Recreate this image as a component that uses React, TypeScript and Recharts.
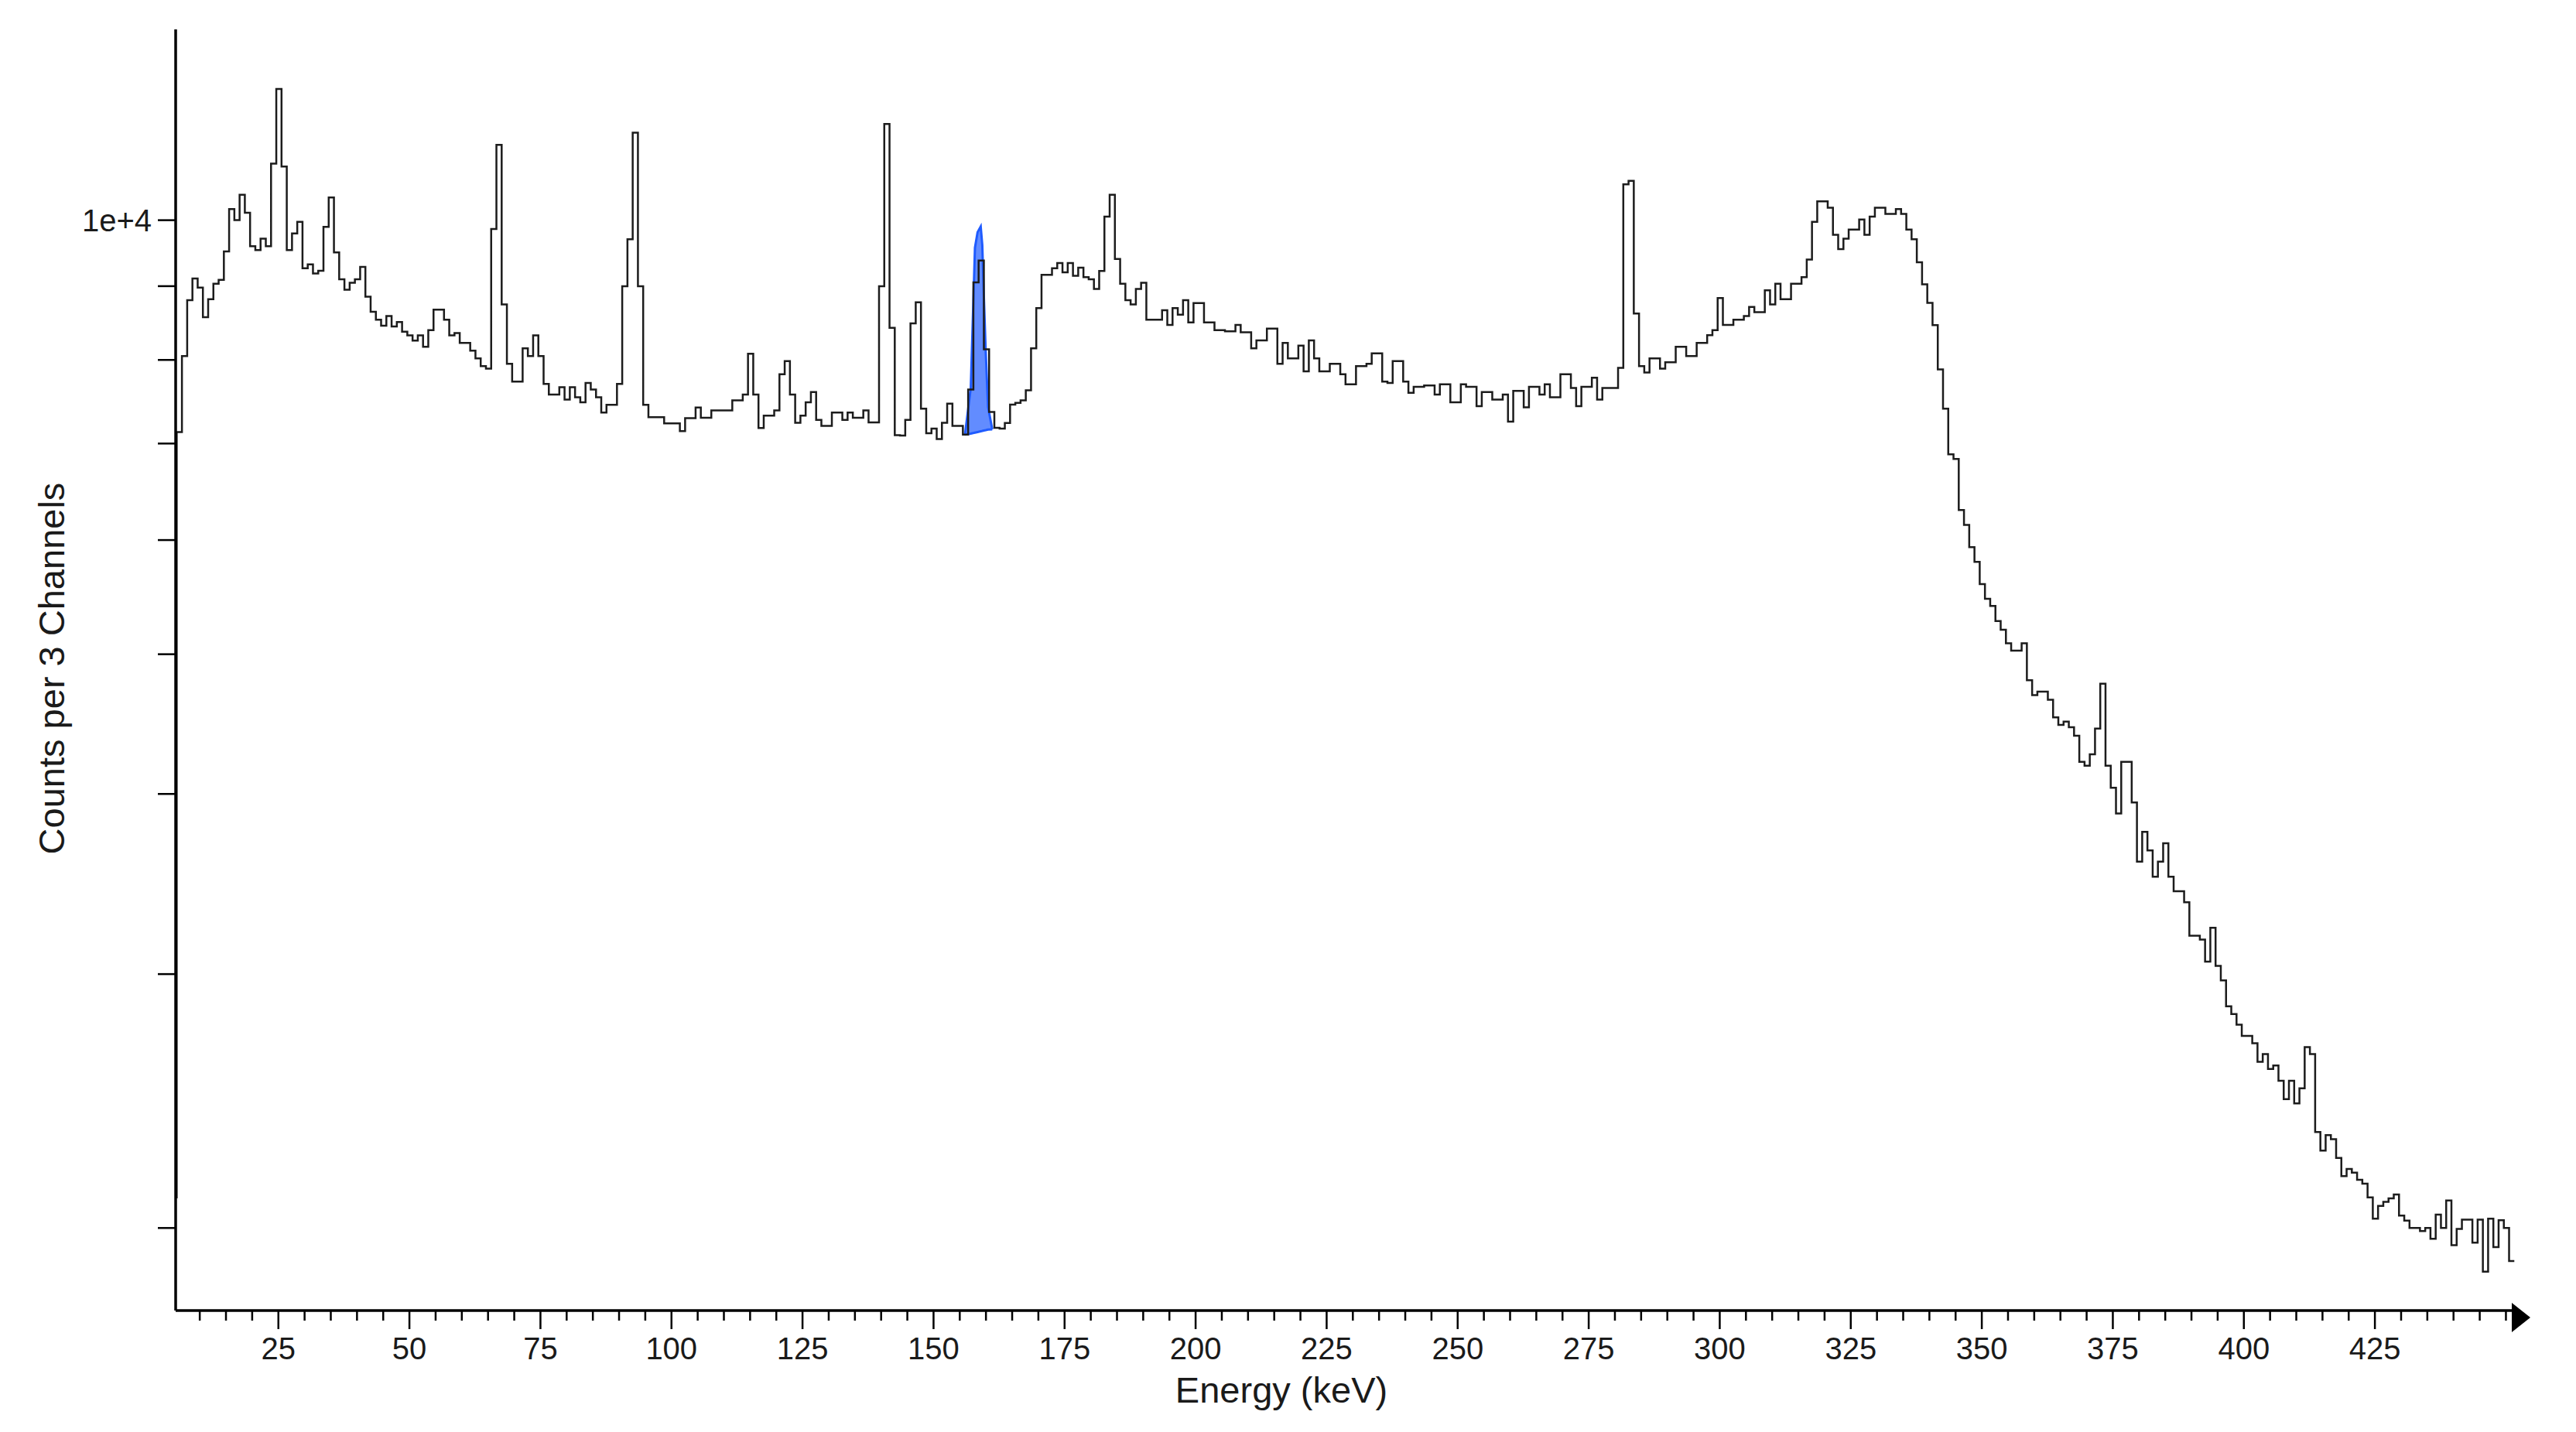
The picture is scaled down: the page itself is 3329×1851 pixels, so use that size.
import React from "react";
import { Area, ComposedChart, Label, Line, XAxis, YAxis } from "recharts";

// Counts per 3 channels. Bins are 1 keV wide, the
// first one (left edge 4.6 keV) lies almost entirely left of the axis.
const binStart = 4.6;
const binWidth = 1;
const counts = [
    2100,
    // 6 - 15 keV
    7130, 8050, 8800, 9110, 8980, 8565, 8815, 9035, 9091, 9512,
    // 16 - 25
    10180, 10000, 10413, 10118, 9592, 9533, 9710, 9592, 10946, 12330,
    // 26 - 35
    10896, 9533, 9790, 9973, 9260, 9318, 9185, 9223, 9893, 10371,
    // 36 - 45
    9500, 9100, 8950, 9050, 9100, 9280, 8850, 8640, 8530, 8450,
    // 46 - 55
    8580, 8440, 8500, 8370, 8320, 8250, 8320, 8170, 8390, 8670,
    // 56 - 65
    8670, 8530, 8320, 8350, 8220, 8220, 8120, 8020, 7920, 7890,
    // 66 - 75
    9860, 11280, 8741, 7950, 7727, 7727, 8150, 8050, 8320, 8050,
    // 76 - 85
    7700, 7570, 7570, 7660, 7510, 7660, 7538, 7477, 7710, 7630,
    // 86 - 95
    7538, 7355, 7446, 7446, 7700, 9000, 9700, 11500, 9000, 7446,
    // 96 - 105
    7300, 7300, 7300, 7230, 7230, 7230, 7140, 7290, 7290, 7415,
    // 106 - 115
    7295, 7295, 7380, 7380, 7380, 7380, 7500, 7500, 7570, 8080,
    // 116 - 125
    7570, 7176, 7320, 7320, 7380, 7820, 7985, 7570, 7235, 7320,
    // 126 - 135
    7477, 7600, 7270, 7200, 7200, 7355, 7355, 7270, 7355, 7295,
    // 136 - 145
    7295, 7380, 7240, 7240, 9000, 11660, 8420, 7095, 7090, 7270,
    // 146 - 155
    8480, 8770, 7400, 7117, 7170, 7050, 7235, 7460, 7200, 7200,
    // 156 - 165
    7100, 7630, 9054, 9376, 8136, 7362, 7177, 7170, 7233, 7450,
    // 166 - 175
    7470, 7500, 7620, 8150, 8690, 9165, 9165, 9260, 9340, 9200,
    // 176 - 185
    9340, 9150, 9270, 9130, 9100, 8960, 9220, 10056, 10414, 9400,
    // 186 - 195
    9035, 8800, 8742, 8961, 9050, 8530, 8530, 8530, 8660, 8460,
    // 196 - 205
    8690, 8600, 8800, 8495, 8760, 8760, 8495, 8495, 8390, 8390,
    // 206 - 215
    8375, 8375, 8460, 8360, 8360, 8150, 8253, 8253, 8410, 8410,
    // 216 - 225
    7950, 8220, 8020, 8020, 8185, 7855, 8253, 8020, 7855, 7855,
    // 226 - 235
    7950, 7950, 7820, 7695, 7695, 7920, 7920, 7950, 8085, 8085,
    // 236 - 245
    7727, 7710, 7986, 7986, 7727, 7590, 7664, 7664, 7680, 7680,
    // 246 - 255
    7570, 7695, 7695, 7477, 7477, 7695, 7664, 7664, 7430, 7600,
    // 256 - 265
    7600, 7508, 7508, 7570, 7250, 7615, 7615, 7416, 7664, 7664,
    // 266 - 275
    7570, 7695, 7538, 7538, 7820, 7820, 7650, 7430, 7664, 7664,
    // 276 - 285
    7775, 7508, 7650, 7650, 7650, 7900, 10590, 10650, 8615, 7920,
    // 286 - 295
    7840, 8020, 8020, 7890, 7970, 7970, 8170, 8170, 8050, 8050,
    // 296 - 305
    8220, 8220, 8322, 8390, 8830, 8460, 8460, 8530, 8530, 8580,
    // 306 - 315
    8705, 8635, 8635, 8940, 8742, 9035, 8815, 8815, 9035, 9035,
    // 316 - 325
    9130, 9390, 9973, 10307, 10307, 10200, 9770, 9550, 9710, 9851,
    // 326 - 335
    9851, 10010, 9770, 10056, 10200, 10200, 10100, 10100, 10180, 10100,
    // 336 - 345
    9850, 9700, 9350, 9026, 8763, 8458, 7880, 7400, 6880, 6830,
    // 346 - 355
    6294, 6147, 5932, 5794, 5593, 5462, 5400, 5272, 5200, 5088,
    // 356 - 365
    5029, 5029, 5088, 4796, 4684, 4710, 4710, 4650, 4520, 4467,
    // 366 - 375
    4490, 4450, 4390, 4210, 4185, 4261, 4440, 4770, 4185, 4040,
    // 376 - 385
    3877, 4210, 4210, 3946, 3590, 3765, 3655, 3505, 3590, 3697,
    // 386 - 395
    3505, 3424, 3424, 3365, 3190, 3190, 3170, 3060, 3230, 3040,
    // 396 - 405
    2970, 2850, 2815, 2767, 2718, 2718, 2686, 2608, 2640, 2578,
    // 406 - 415
    2593, 2530, 2457, 2530, 2440, 2500, 2670, 2640, 2331, 2263,
    // 416 - 425
    2320, 2305, 2237, 2173, 2198, 2185, 2160, 2147, 2100, 2030,
    // 426 - 435
    2072, 2085, 2097, 2110, 2040, 2024, 2000, 2000, 1990, 2000,
    // 436 - 445
    1966, 2043, 2000, 2090, 1946, 1997, 2027, 2027, 1954, 2027,
    // 446 - 451
    1865, 2030, 1940, 2025, 2000, 1897,
];

// fitted peak near 159 keV (blue), outline points and its sloped baseline
const peakEnergy = [156.0, 157.1, 157.7, 157.9, 158.4, 159.0, 159.3, 159.6, 159.95, 160.4, 161.2];
const peakTop = [7100, 7650, 9040, 9570, 9810, 9900, 9610, 8850, 8120, 7420, 7160];
const peakBase = [7100, 7112, 7120, 7123, 7130, 7138, 7142, 7147, 7151, 7157, 7160];

const yTicks = [2000, 3000, 4000, 5000, 6000, 7000, 8000, 9000, 10000];
const yTickLabels: Record<number, string> = { 10000: "1e+4" };
const xMajorTicks = [25, 50, 75, 100, 125, 150, 175, 200, 225, 250, 275, 300, 325, 350, 375, 400, 425];

const FONT = "'Liberation Sans', Arial, sans-serif";
const INK = "#1a1a1a";

const spectrum = counts.map((c, i) => ({ e: +(binStart + i * binWidth).toFixed(2), c }));
// close the last bin
spectrum.push({ e: +(binStart + counts.length * binWidth).toFixed(2), c: counts[counts.length - 1] });

const peak = peakEnergy.map((e, i) => ({ e, r: [peakBase[i], peakTop[i]] }));

const xTicks: number[] = [];
for (let v = 10; v <= 450; v += 5) xTicks.push(v);

const XTick = (props: any) => {
    const { x, y, payload } = props;
    const major = xMajorTicks.includes(payload.value);
    return (
        <g>
            <line x1={x} y1={y} x2={x} y2={y + (major ? 24 : 13)} stroke="#000" strokeWidth={2.5} />
            {major && (
                <text x={x} y={y + 63} textAnchor="middle" fontSize={40} fontFamily={FONT} fill={INK}>
                    {payload.value}
                </text>
            )}
        </g>
    );
};

const YTick = (props: any) => {
    const { x, y, payload } = props;
    const label = yTickLabels[payload.value];
    return (
        <g>
            <line x1={x - 23} y1={y} x2={x} y2={y} stroke="#000" strokeWidth={2.5} />
            {label && (
                <text x={x - 31} y={y} dy="0.35em" textAnchor="end" fontSize={40} fontFamily={FONT} fill={INK}>
                    {label}
                </text>
            )}
        </g>
    );
};

export default function App() {
    return (
        <div style={{ position: "relative", width: 3329, height: 1851, background: "#fff" }}>
            <style>{"body{margin:0}"}</style>
            <ComposedChart
                width={3329}
                height={1851}
                margin={{ top: 38, right: 77, bottom: 97, left: 127 }}
            >
                <XAxis
                    type="number"
                    dataKey="e"
                    domain={[5.4, 452]}
                    allowDataOverflow
                    ticks={xTicks}
                    interval={0}
                    tickSize={0}
                    tickMargin={0}
                    tickLine={false}
                    tick={XTick}
                    height={60}
                    axisLine={{ stroke: "#000", strokeWidth: 3.5 }}
                >
                    <Label
                        content={() => (
                            <text x={1656} y={1813} textAnchor="middle" fontSize={47} fontFamily={FONT} fill={INK}>
                                Energy (keV)
                            </text>
                        )}
                    />
                </XAxis>
                <YAxis
                    type="number"
                    scale="log"
                    domain={[1753, 13562]}
                    allowDataOverflow
                    ticks={yTicks}
                    interval={0}
                    tickSize={0}
                    tickMargin={0}
                    tickLine={false}
                    tick={YTick}
                    width={100}
                    axisLine={{ stroke: "#000", strokeWidth: 3.5 }}
                >
                    <Label
                        content={() => (
                            <text
                                x={83}
                                y={864}
                                transform="rotate(-90 83 864)"
                                textAnchor="middle"
                                fontSize={47}
                                fontFamily={FONT}
                                fill={INK}
                            >
                                Counts per 3 Channels
                            </text>
                        )}
                    />
                </YAxis>
                <Line
                    data={spectrum}
                    dataKey="c"
                    type="stepAfter"
                    stroke="#1c1c1c"
                    strokeWidth={2.5}
                    dot={false}
                    activeDot={false}
                    isAnimationActive={false}
                />
                <Area
                    data={peak}
                    dataKey="r"
                    type="linear"
                    stroke="#1f5bff"
                    strokeWidth={3}
                    fill="#1f5bff"
                    fillOpacity={0.7}
                    dot={false}
                    activeDot={false}
                    isAnimationActive={false}
                />
            </ComposedChart>
            <svg
                width={3329}
                height={1851}
                style={{ position: "absolute", left: 0, top: 0, pointerEvents: "none" }}
            >
                <polygon points="3246,1684 3270,1703 3246,1722" fill="#000" />
            </svg>
        </div>
    );
}
